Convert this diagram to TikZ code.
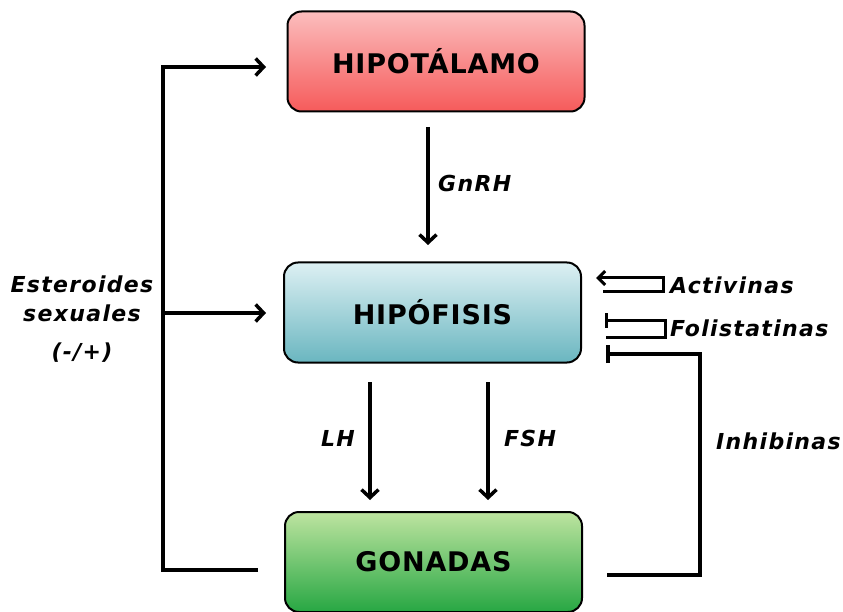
\documentclass[tikz,border=0pt]{standalone}
\usepackage{fontspec}
\setmainfont{DejaVu Sans}
\usetikzlibrary{arrows.meta}
\definecolor{rtop}{HTML}{FBBEBE}
\definecolor{rbot}{HTML}{F65A5A}
\definecolor{btop}{HTML}{DDF0F3}
\definecolor{bbot}{HTML}{6AB6C0}
\definecolor{gtop}{HTML}{BEE4A0}
\definecolor{gbot}{HTML}{27A743}
\tikzset{
  organ/.style={draw=black, line width=2pt, rounded corners=14pt, minimum width=297pt, minimum height=100pt, font=\fontsize{27}{30}\selectfont\bfseries\addfontfeatures{LetterSpace=3}},
  lbl/.style={font=\fontsize{22}{26}\selectfont\bfseries\itshape\addfontfeatures{LetterSpace=6}, inner sep=0pt},
  conn/.style={line width=3.5pt},
  arr/.style={conn, -{Straight Barb[length=8pt,width=17pt,line width=3.5pt]}},
  inh/.style={conn, -{Bar[width=18pt,line width=3.5pt]}}
}
\begin{document}
\begin{tikzpicture}[x=1pt,y=-1pt]
\useasboundingbox (0,0) rectangle (843,612);
\node[organ, top color=rtop, bottom color=rbot] (hipo) at (436,61.5) {HIPOTÁLAMO};
\node[organ, top color=btop, bottom color=bbot] (hipof) at (432.5,312.5) {HIPÓFISIS};
\node[organ, top color=gtop, bottom color=gbot] (gon) at (433.5,562) {GONADAS};
% GnRH
\coordinate (g1) at (428,127);
\coordinate (g2) at (428,245);
\draw[arr] (g1) -- (g2);
\node[lbl, anchor=west] (gnrh) at (438,183) {GnRH};
% LH / FSH
\coordinate (l1) at (370,382); \coordinate (l2) at (370,500);
\coordinate (f1) at (488,382); \coordinate (f2) at (488,500);
\draw[arr] (l1) -- (l2);
\draw[arr] (f1) -- (f2);
\node[lbl] (lh) at (338,438) {LH};
\node[lbl] (fsh) at (530,438) {FSH};
% left loop
\coordinate (s0) at (258,570);
\coordinate (s1) at (163,570);
\coordinate (s2) at (163,67);
\coordinate (s3) at (266,67);
\coordinate (sm) at (163,313);
\coordinate (s4) at (266,313);
\draw[arr] (s0) -- (s1) -- (s2) -- (s3);
\draw[arr] (sm) -- (s4);
\node[lbl] (est1) at (82,284) {Esteroides};
\node[lbl] (est2) at (82,313) {sexuales};
\node[lbl] (est3) at (82,353) {(-/+)};
% Activinas
\coordinate (a0) at (603,292);
\coordinate (a1) at (663,292);
\coordinate (a2) at (663,278);
\coordinate (a3) at (596,278);
\draw[line width=3pt, -{Straight Barb[length=7pt,width=14pt,line width=3pt]}] (a0) -- (a1) -- (a2) -- (a3);
\node[lbl, anchor=west] (act) at (670,285) {Activinas};
% Folistatinas
\coordinate (f0) at (606,337);
\coordinate (fa) at (665,337);
\coordinate (fb) at (665,320);
\coordinate (fc) at (605,320);
\draw[line width=3pt, -{Bar[width=15pt,line width=3pt]}] (f0) -- (fa) -- (fb) -- (fc);
\node[lbl, anchor=west] (fol) at (670,328) {Folistatinas};
% Inhibinas
\coordinate (i0) at (607,575);
\coordinate (i1) at (700,575);
\coordinate (i2) at (700,354);
\coordinate (i3) at (606,354);
\draw[inh] (i0) -- (i1) -- (i2) -- (i3);
\node[lbl, anchor=west] (inhb) at (716,441) {Inhibinas};
\end{tikzpicture}
\end{document}
